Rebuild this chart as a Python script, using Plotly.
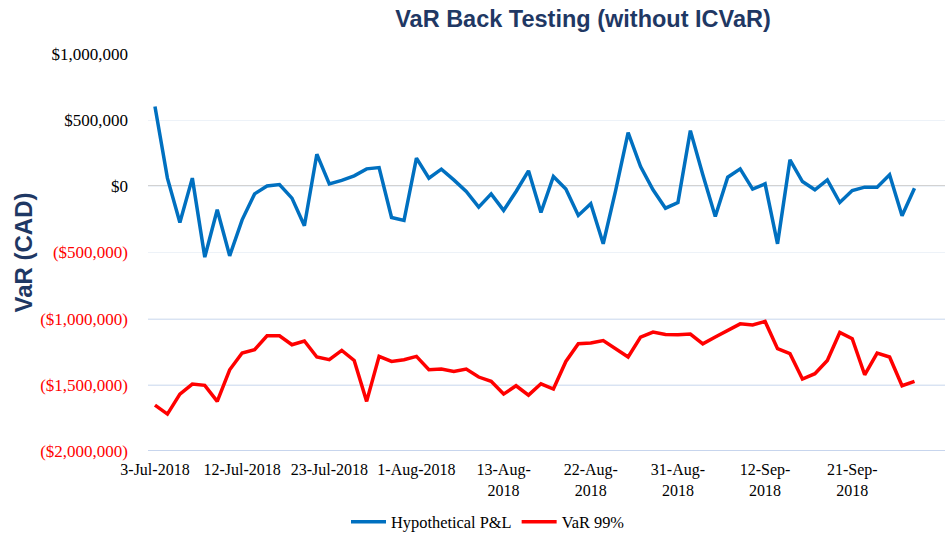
import pandas as pd
import plotly.graph_objects as go

# Business days (Canadian calendar: Civic Holiday and Labour Day closed)
holidays = ["2018-08-06", "2018-09-03"]
dates = pd.bdate_range("2018-07-03", "2018-09-28", freq="C", holidays=holidays)
categories = [f"{d.day}-{d.strftime('%b')}-{d.year}" for d in dates]

hypothetical_pnl = [
    603000, 62000, -273000, 62000, -535000, -177000, -525000, -253000, -57000, 3000,
    14000, -89000, -298000, 243000, 19000, 45000, 79000, 132000, 142000, -235000,
    -258000, 213000, 62000, 130000, 49000, -39000, -157000, -57000, -182000, -39000,
    117000, -198000, 74000, -21000, -220000, -132000, -434000, -30000, 406000, 150000,
    -26000, -165000, -122000, 421000, 87000, -228000, 69000, 132000, -21000, 19000,
    -434000, 200000, 36000, -26000, 49000, -122000, -32000, -6000, -6000, 87000,
    -223000, -14000,
]

var_99 = [
    -1653000, -1721000, -1570000, -1494000, -1504000, -1625000, -1386000, -1260000, -1235000, -1129000,
    -1129000, -1197000, -1169000, -1290000, -1310000, -1240000, -1316000, -1625000, -1285000, -1323000,
    -1310000, -1285000, -1386000, -1381000, -1399000, -1381000, -1441000, -1474000, -1570000, -1507000,
    -1578000, -1492000, -1532000, -1323000, -1190000, -1184000, -1165000, -1230000, -1290000, -1139000,
    -1101000, -1119000, -1122000, -1116000, -1190000, -1139000, -1091000, -1039000, -1048000, -1021000,
    -1227000, -1265000, -1456000, -1416000, -1316000, -1104000, -1152000, -1424000, -1260000, -1290000,
    -1507000, -1474000,
]

y_tick_vals = [1000000, 500000, 0, -500000, -1000000, -1500000, -2000000]
y_tick_text = ["$1,000,000", "$500,000", "$0", "($500,000)", "($1,000,000)", "($1,500,000)", "($2,000,000)"]

x_tick_idx = [0, 7, 14, 21, 28, 35, 42, 49, 56]
x_tick_text = ["3-Jul-2018", "12-Jul-2018", "23-Jul-2018", "1-Aug-2018", "13-Aug-<br>2018",
               "22-Aug-<br>2018", "31-Aug-<br>2018", "12-Sep-<br>2018", "21-Sep-<br>2018"]

NAVY = "#1F3864"
BLUE = "#0070C0"
RED = "#FF0000"
SERIF = "Liberation Serif"

ytext = [
    (f'<span style="color:{RED}">{t}</span>' if v < 0 else t)
    for v, t in zip(y_tick_vals, y_tick_text)
]

fig = go.Figure()
fig.add_trace(go.Scatter(x=categories, y=hypothetical_pnl, mode="lines",
                         name="Hypothetical P&L", line=dict(color=BLUE, width=3.5)))
fig.add_trace(go.Scatter(x=categories, y=var_99, mode="lines",
                         name="VaR 99%", line=dict(color=RED, width=3.5)))

# stronger gridlines in the lower band and a grey zero line
shapes = []
for v in y_tick_vals:
    if v <= -1000000:
        shapes.append(dict(type="line", xref="paper", x0=0, x1=1, yref="y", y0=v, y1=v,
                           line=dict(color="#B4C7E7", width=1.5), layer="below"))
    elif v == 0:
        shapes.append(dict(type="line", xref="paper", x0=0, x1=1, yref="y", y0=v, y1=v,
                           line=dict(color="#A6A6A6", width=1.5), layer="below"))

fig.update_layout(
    width=945, height=538,
    margin=dict(l=148, r=0, t=54, b=87, autoexpand=False),
    paper_bgcolor="white", plot_bgcolor="white",
    title=dict(text="<b>VaR Back Testing (without ICVaR)</b>",
               font=dict(family="Liberation Sans", size=23.5, color=NAVY),
               x=583 / 945, xanchor="center", xref="container",
               y=1 - 19 / 538, yanchor="middle", yref="container"),
    showlegend=True,
    legend=dict(orientation="h", xref="container", yref="container",
                x=488 / 945, xanchor="center", y=(538 - 522) / 538, yanchor="middle",
                font=dict(family=SERIF, size=16.4, color="#000000"),
                itemwidth=35, tracegroupgap=0),
    shapes=shapes,
    xaxis=dict(type="category", range=[-0.56, 63.45], automargin=False,
               tickmode="array", tickvals=[categories[i] for i in x_tick_idx], ticktext=x_tick_text,
               tickangle=0, showgrid=False, showline=False, zeroline=False, ticks="",
               ticklabelstandoff=7,
               tickfont=dict(family=SERIF, size=16, color="#000000")),
    yaxis=dict(range=[-2000000, 1000000], tickmode="array", tickvals=y_tick_vals, ticktext=ytext,
               automargin=False,
               showgrid=True, gridcolor="#EDF2F8", gridwidth=1, zeroline=False, showline=False,
               ticks="", ticklabelstandoff=19,
               tickfont=dict(family=SERIF, size=17, color="#000000"),
               title=dict(text="<b>VaR (CAD)</b>", standoff=0,
                          font=dict(family="Liberation Sans", size=24, color=NAVY))),
)

fig.write_html("out.html", config={"displayModeBar": False},
               post_script="document.body.style.margin='0';document.body.style.overflow='hidden';")
